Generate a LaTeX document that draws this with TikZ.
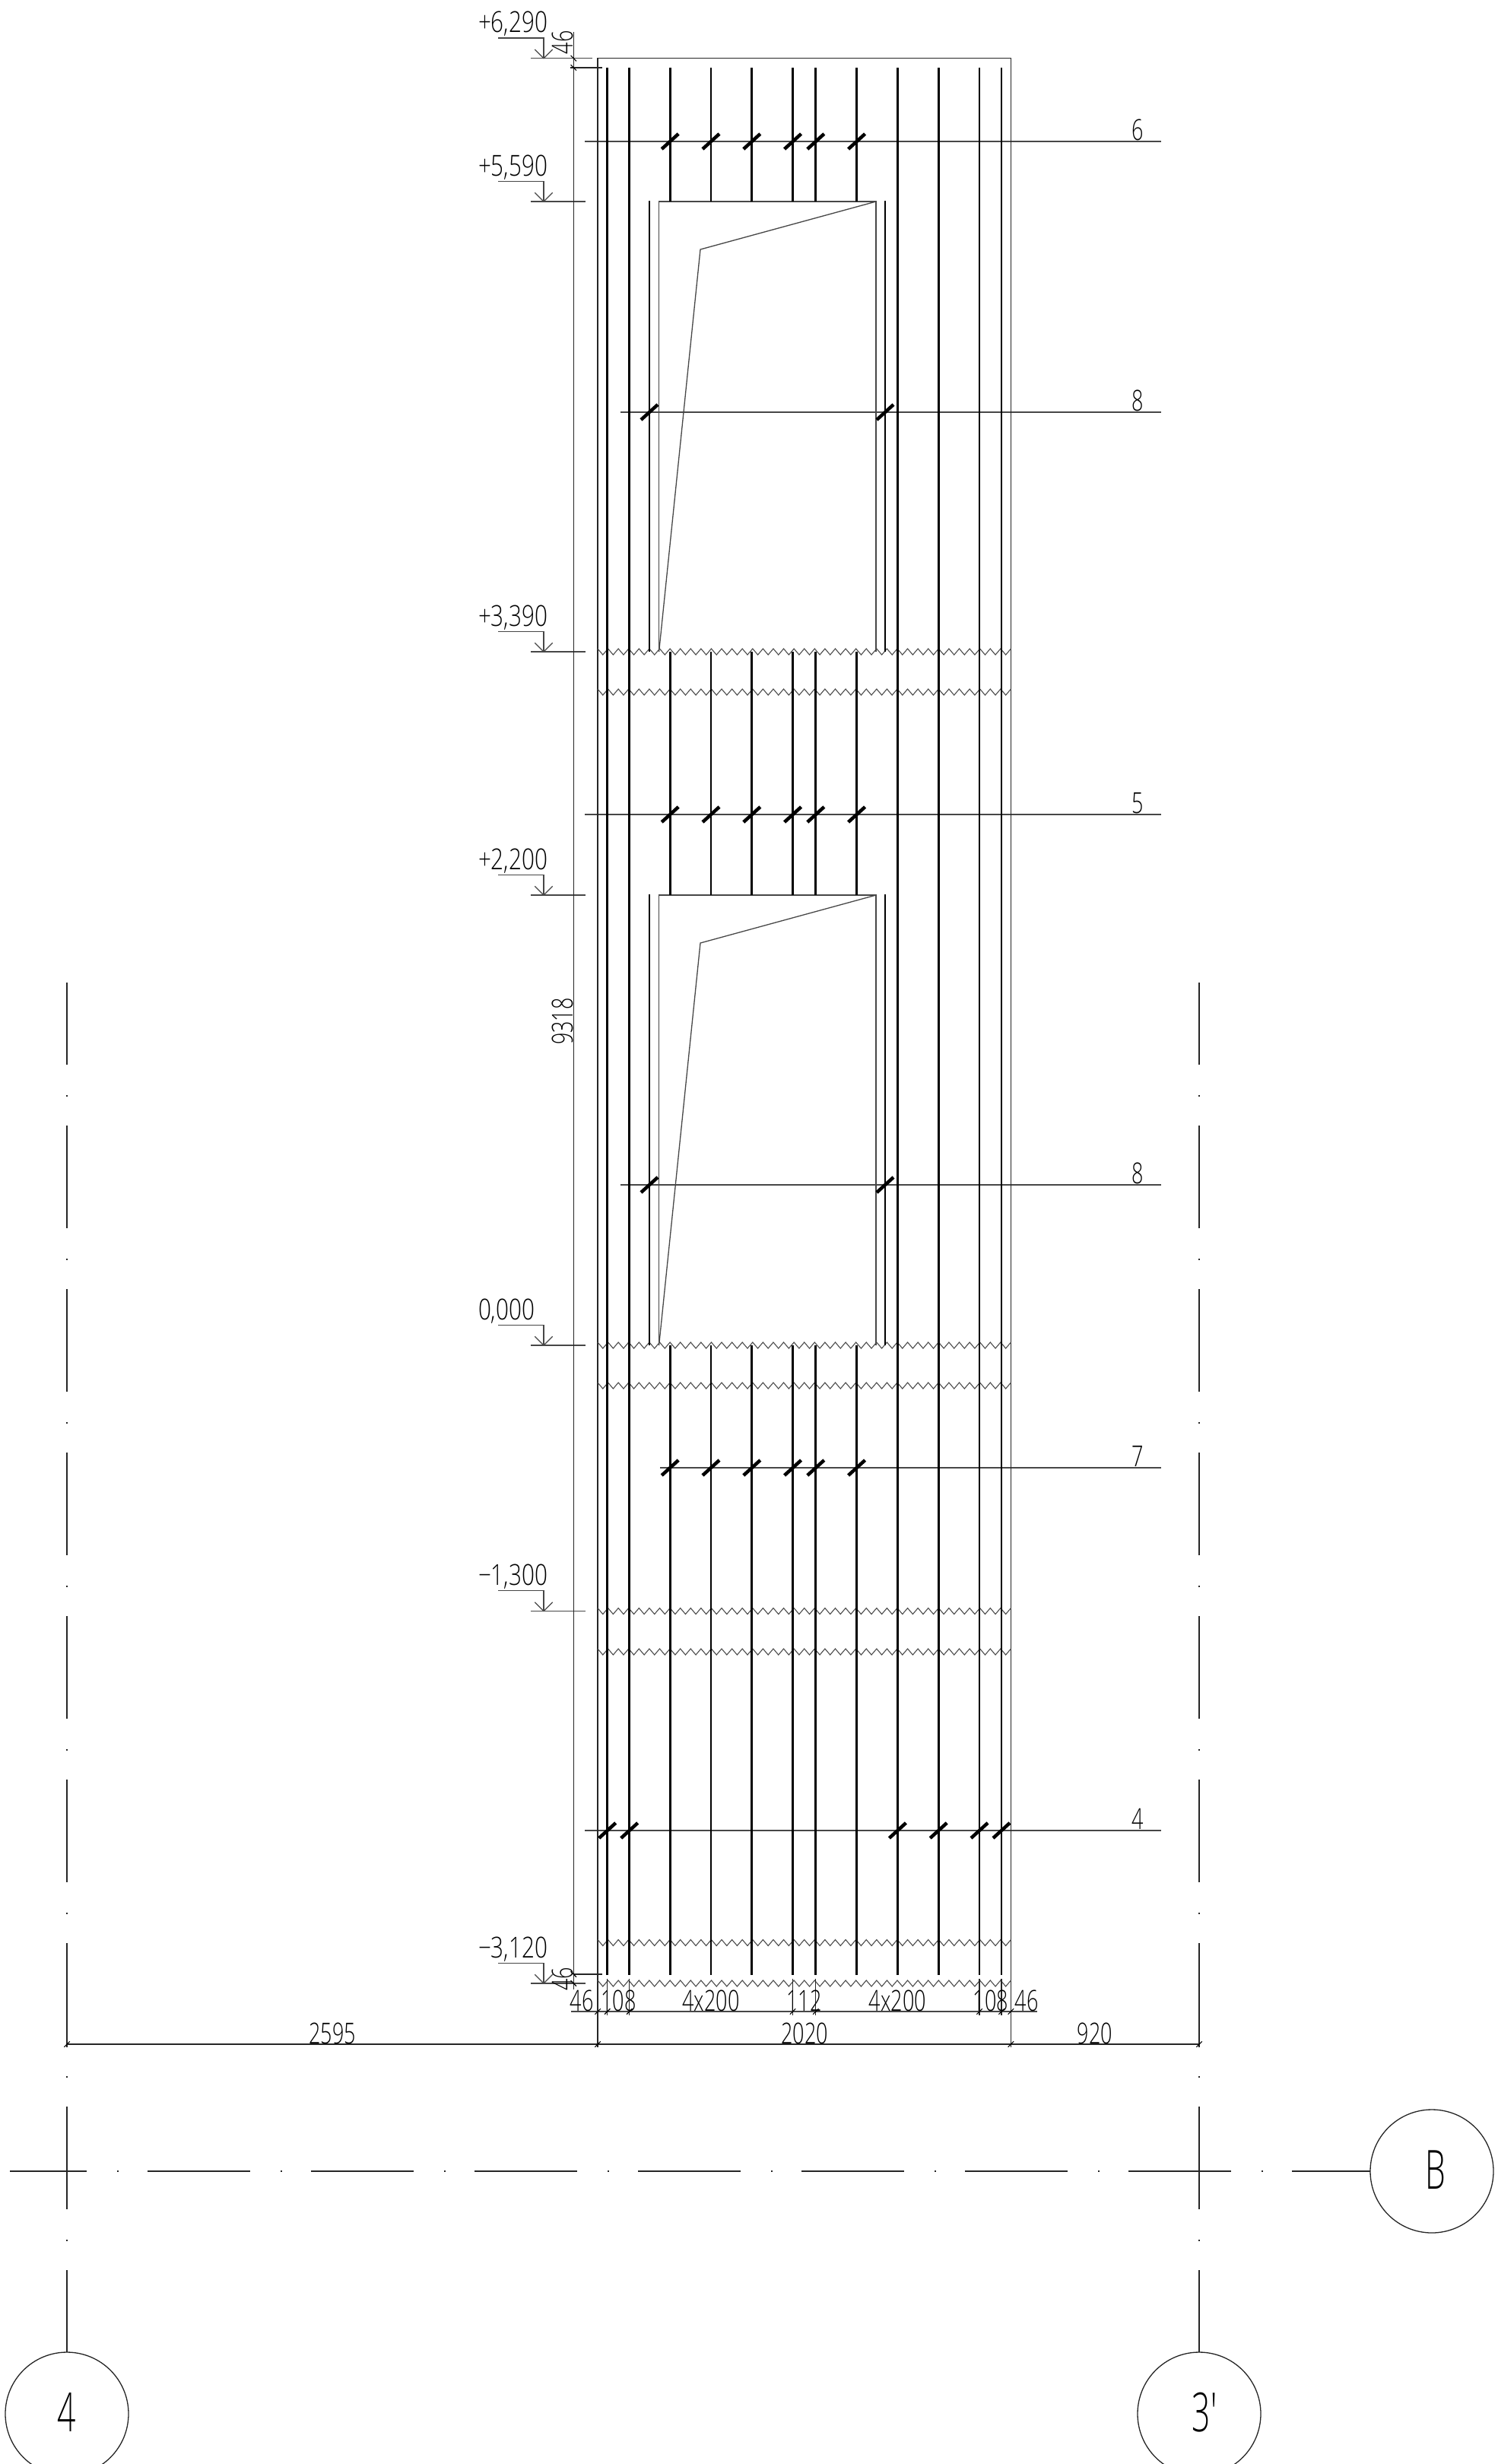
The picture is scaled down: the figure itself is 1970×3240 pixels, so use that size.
\documentclass[tikz,border=0pt]{standalone}
\usepackage{fontspec}
\newfontfamily\gost[FakeStretch=.71]{Open Sans Light}
\newfontfamily\gostlev[FakeStretch=.78]{Open Sans Light}
\newfontfamily\gostbig[FakeStretch=.6]{Open Sans Light}
\tikzset{
  thin line/.style={line width=1.3pt,color=black!72},
  hair/.style={line width=1.2pt,color=black!85},
  wave/.style={line width=1.1pt,color=black!70,line join=miter},
  bar/.style={line width=2.8pt,color=black},
  slash/.style={line width=4.5pt,color=black},
  dimtick/.style={line width=1.1pt,color=black},
  axis line/.style={line width=1.3pt,color=black!85},
  txt/.style={font=\gost\fontsize{38}{38}\selectfont,inner sep=0pt,outer sep=0pt,text=black,anchor=base},
  levtxt/.style={font=\gostlev\fontsize{38}{38}\selectfont,inner sep=0pt,outer sep=0pt,text=black,anchor=base west},
  bigtxt/.style={font=\gostbig\fontsize{71}{71}\selectfont,inner sep=0pt,outer sep=0pt,text=black,anchor=center},
  axiscircle/.style={circle,draw=black!85,line width=1.3pt,minimum size=162pt,inner sep=0pt,outer sep=0pt},
}
\begin{document}
\begin{tikzpicture}[x=1pt,y=-1pt]
\useasboundingbox (0,0) rectangle (1970,3240);
\fill[white] (0,0) rectangle (1970,3240);

% axis bubbles
\node[axiscircle] (axisB) at (1883,2855) {};
\node[axiscircle] (axisThree) at (1577,3174) {};
\node[axiscircle] (axisFour) at (88,3174) {};
\node[bigtxt] (labB) at (1888,2853) {B};
\node[bigtxt] (labThree) at (1584,3172) {3′};
\node[bigtxt] (labFour) at (88,3172) {4};

% axes
\coordinate (hstart) at (13,2855);
\coordinate (vstartA) at (88,1292);
\coordinate (vstartB) at (1577,1292);
\draw[axis line,dash pattern=on 135pt off 40pt on 1.5pt off 38.5pt,dash phase=34pt] (hstart) -- (axisB.west);
\draw[axis line,dash pattern=on 135pt off 40pt on 1.5pt off 38.5pt,dash phase=27pt] (vstartA) -- (axisFour.north);
\draw[axis line,dash pattern=on 135pt off 40pt on 1.5pt off 38.5pt,dash phase=27pt] (vstartB) -- (axisThree.north);

% section lines
\foreach \y/\xs in {186/769,542/816,1071/769,1558/816,1930/868,2407/769}
  \draw[thin line] (\xs,\y) -- (1527,\y);

% outer contour
\draw[hair] (786,2692) -- (786,76.7) -- (1329.4,76.7) -- (1329.4,2692);

% windows
\foreach \d in {0,912}{
  \draw[thin line] (866.6,857+\d) -- (866.6,265+\d) -- (1152,265+\d) -- (1152,857+\d);
  \draw[thin line] (866.6,857+\d) -- (921,328+\d) -- (1152,265+\d);
}

% zigzag break lines
\foreach \y in {857,910,1769,1822,2118.5,2172,2554.5,2608}
  \draw[wave] (786,\y-4) \foreach \k in {1,...,40}{ -- ++(6.793,8) -- ++(6.793,-8)};

% bars
\foreach \x in {798.7,827.7,1180.4,1234.2,1288,1317}
  \draw[bar] (\x,89) -- (\x,2597);
\foreach \x in {881.2,935,988.8,1042.6,1072.8,1126.6}{
  \draw[bar] (\x,89) -- (\x,265);
  \draw[bar] (\x,857) -- (\x,1177);
  \draw[bar] (\x,1769) -- (\x,2597);
}
\foreach \x in {854,1164}{
  \draw[bar] (\x,264) -- (\x,857);
  \draw[bar] (\x,1176) -- (\x,1769);
}

% bar marks
\foreach \y in {186,1071,1930}
  \foreach \x in {881.2,935,988.8,1042.6,1072.8,1126.6}
    \draw[slash] (\x-11,\y+10) -- (\x+11,\y-10);
\foreach \y in {542,1558}
  \foreach \x in {854,1164}
    \draw[slash] (\x-11,\y+10) -- (\x+11,\y-10);
\foreach \x in {798.7,827.7,1180.4,1234.2,1288,1317}
  \draw[slash] (\x-11,2407+10) -- (\x+11,2407-10);

% section numbers
\node[txt] (nSix) at (1496,184) {6};
\node[txt] (nEightA) at (1496,540) {8};
\node[txt] (nFive) at (1496,1069) {5};
\node[txt] (nEightB) at (1496,1556) {8};
\node[txt] (nSeven) at (1496,1928) {7};
\node[txt] (nFour) at (1496,2405) {4};

% level marks
\foreach \y/\lab/\xe [count=\i] in {76.7/{+6,290}/779,265/{+5,590}/770,857/{+3,390}/770,1177/{+2,200}/770,1769/{0,000}/770,2118.5/{−1,300}/770,2608/{−3,120}/770}{
  \draw[thin line] (698,\y) -- (\xe,\y);
  \draw[thin line] (655,\y-26.7) -- (715,\y-26.7) -- (715,\y);
  \draw[thin line] (703.3,\y-11.7) -- (715,\y) -- (726.7,\y-11.7);
  \node[levtxt] (lev\i) at (629,\y-34) {\lab};
}

% vertical dimension
\draw[hair] (754.3,42) -- (754.3,2616);
\draw[hair] (750,89) -- (792,89);
\draw[hair] (754.3,2596) -- (792,2596);
\foreach \y in {76.7,89,2596,2608}
  \draw[dimtick] (754.3-3.7,\y-3.7) -- (754.3+3.7,\y+3.7);
\node[txt,rotate=90] (dimTop) at (753,56) {46};
\node[txt,rotate=90] (dimMid) at (753,1343) {9318};
\node[txt,rotate=90] (dimBot) at (753,2602) {46};

% horizontal dimension, row 1
\draw[thin line] (751,2645) -- (1364,2645);
\foreach \x in {798.7,827.7,1042.6,1072.8,1288,1317}
  \draw[hair] (\x,2602) -- (\x,2650);
\foreach \x in {786,798.7,827.7,1042.6,1072.8,1288,1317,1329.4}
  \draw[dimtick] (\x-3.7,2645+3.7) -- (\x+3.7,2645-3.7);
\node[txt] (dA) at (765,2644) {46};
\node[txt] (dB) at (813.5,2644) {108};
\node[txt] (dC) at (935,2644) {4x200};
\node[txt] (dD) at (1057.5,2644) {112};
\node[txt] (dE) at (1180.5,2644) {4x200};
\node[txt] (dF) at (1303,2644) {108};
\node[txt] (dG) at (1350,2644) {46};

% horizontal dimension, row 2
\draw[hair] (88,2688) -- (1577,2688);
\draw[hair] (88,2615) -- (88,2692);
\draw[hair] (1577,2615) -- (1577,2692);
\foreach \x in {88,786,1329.4,1577}
  \draw[dimtick] (\x-3.7,2688+3.7) -- (\x+3.7,2688-3.7);
\node[txt] (dH) at (437,2687) {2595};
\node[txt] (dI) at (1058,2687) {2020};
\node[txt] (dJ) at (1440,2687) {920};
\end{tikzpicture}
\end{document}
